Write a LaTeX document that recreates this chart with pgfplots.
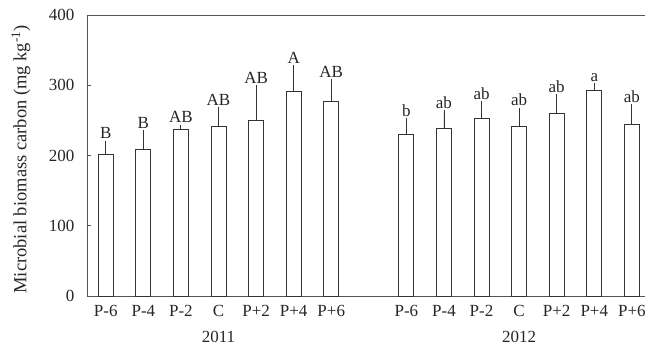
\documentclass[border=0pt]{standalone}
\usepackage{fontspec}
\setmainfont{Liberation Serif}
\usepackage{pgfplots}
\usepackage{pgfplotstable}
\pgfplotsset{compat=1.18}

\definecolor{axisgray}{HTML}{555555}
\definecolor{barline}{HTML}{333333}

% position, mean, upper error, significance letter
\pgfplotstableread{
x  y     e    lab
0  201.2 16.1 B
1  208.3 24.1 B
2  237.2 2.8  AB
3  241.0 24.1 AB
4  250.4 45.9 AB
5  291.1 34.1 A
6  277.4 27.5 AB
8  229.6 19.4 b
9  239.0 21.8 ab
10 253.3 20.3 ab
11 241.0 23.1 ab
12 259.4 24.2 ab
13 292.1 7.1  a
14 244.3 24.6 ab
}\mbc

\begin{document}
\begin{tikzpicture}
\begin{axis}[
  name=ax,
  scale only axis,
  width=558pt, height=281pt,
  xmin=-0.5, xmax=14.35,
  ymin=0, ymax=400,
  clip=false,
  axis x line*=bottom,
  axis y line*=left,
  axis line style={axisgray, line width=0.9pt},
  ytick={0,100,200,300,400},
  tick align=inside,
  major tick length=4pt,
  y tick style={axisgray, line width=0.8pt},
  xtick={0,1,2,3,4,5,6,8,9,10,11,12,13,14},
  xticklabels={P-6,P-4,P-2,C,P+2,P+4,P+6,P-6,P-4,P-2,C,P+2,P+4,P+6},
  x tick style={draw=none},
  /pgf/number format/assume math mode=true,
  tick label style={font=\fontsize{17}{20}\selectfont, text=black!85},
  yticklabel style={xshift=-9pt},
  xticklabel style={yshift=-6pt},
]
  \addplot[ybar, bar width=15pt, draw=barline, fill=white, line width=0.9pt,
    error bars/.cd, y dir=plus, y explicit,
    error bar style={barline, line width=0.9pt},
    error mark options={barline, line width=0.9pt, mark size=2.7pt}]
    table[x=x, y=y, y error=e] {\mbc};
  \addplot[only marks, mark=none,
    nodes near coords, point meta=explicit symbolic,
    every node near coord/.append style={font=\fontsize{17}{20}\selectfont, text=black!85, anchor=south, yshift=1pt}]
    table[x=x, y expr=\thisrow{y}+\thisrow{e}, meta=lab] {\mbc};
  \draw[axisgray, line width=0.9pt] (rel axis cs:0,1) -- (rel axis cs:1,1);
  \node[font=\fontsize{17}{20}\selectfont, text=black!85] at (axis cs:3,0) [yshift=-41pt] {2011};
  \node[font=\fontsize{17}{20}\selectfont, text=black!85] at (axis cs:11,0) [yshift=-41pt] {2012};
\end{axis}
\coordinate (yl) at ([xshift=-66pt, yshift=-4pt]ax.west);
\node[rotate=90, font=\fontsize{18.5}{21}\selectfont, text=black!85] at (yl)
  {Microbial biomass carbon (mg kg\textsuperscript{-1})};
\pgfresetboundingbox
\path ([xshift=-87pt, yshift=-54pt]ax.south west) rectangle ([yshift=15pt]ax.north east);
\end{tikzpicture}
\end{document}
